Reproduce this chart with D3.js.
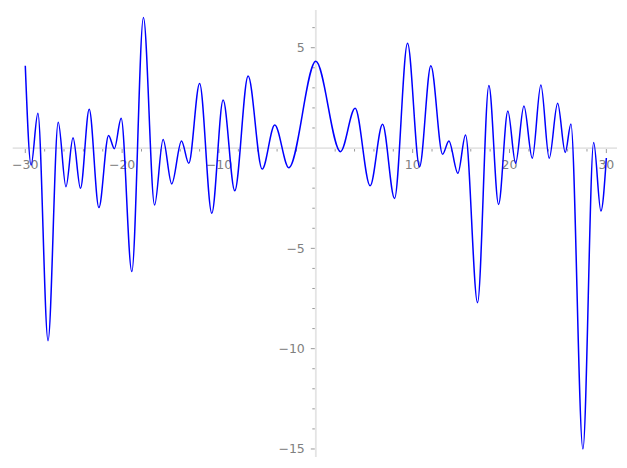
<!DOCTYPE html>
<html>
<head>
<meta charset="utf-8">
<script src="https://cdn.jsdelivr.net/npm/d3@7"></script>
<style>
  body { margin: 0; background: #fff; }
  text { font-family: "DejaVu Sans", sans-serif; font-size: 12.5px; fill: #808080; }
</style>
</head>
<body>
<div id="chart"></div>
<script>
// Curve samples (mostly local extrema)
const xValues = [-30, -29.4, -28.7, -27.65, -26.6, -25.8, -25.07, -24.3, -23.4, -22.4, -21.4, -20.8, -20.1,
  -19.0, -17.8, -16.65, -15.77, -14.88, -13.87, -13.12, -12.0, -10.74, -9.57, -8.37, -6.99, -5.54, -4.24,
  -2.79, 0, 2.55, 4.06, 5.61, 6.89, 8.13, 9.47, 10.71, 11.88, 13.09, 13.74, 14.67, 15.46, 16.7, 17.87,
  18.87, 19.83, 20.63, 21.49, 22.35, 23.24, 24.1, 24.97, 25.76, 26.34, 27.58, 28.69, 29.44, 30];
const yValues = [4.1, -0.85, 1.73, -9.6, 1.28, -1.93, 0.51, -2.01, 1.93, -2.97, 0.63, -0.03, 1.48,
  -6.16, 6.51, -2.84, 0.43, -1.79, 0.35, -0.76, 3.22, -3.25, 2.39, -2.13, 3.59, -1.05, 1.15,
  -0.98, 4.32, -0.18, 1.98, -1.88, 1.18, -2.51, 5.22, -0.93, 4.10, -0.31, 0.35, -1.26, 0.65, -7.71, 3.12,
  -2.81, 1.84, -0.76, 2.09, -0.51, 3.14, -0.51, 2.23, -0.22, 1.2, -15.0, 0.27, -3.14, -0.5];

const xLabels = [-30, -20, -10, 10, 20, 30];
const yLabels = [5, -5, -10, -15];

const width = 627, height = 468;
const points = xValues.map((x, i) => ({ x, y: yValues[i] }));

const x = d3.scaleLinear().domain([-31.3, 31.1]).range([12.7, 617]);
const y = d3.scaleLinear().domain([-15.4, 6.88]).range([457, 10]);

const svg = d3.select("#chart").append("svg")
  .attr("width", width)
  .attr("height", height);

// Axis spines through the origin
svg.append("line")
  .attr("x1", x.range()[0]).attr("x2", x.range()[1])
  .attr("y1", y(0)).attr("y2", y(0))
  .attr("stroke", "#e4e4e4").attr("stroke-width", 1.8);
svg.append("line")
  .attr("x1", x(0)).attr("x2", x(0))
  .attr("y1", y.range()[0]).attr("y2", y.range()[1])
  .attr("stroke", "#e4e4e4").attr("stroke-width", 1.8);

// x ticks: minor every 2, major every 10
const xMinor = d3.range(-30, 31, 2).filter(d => d !== 0);
svg.append("g").selectAll("line")
  .data(xMinor)
  .join("line")
  .attr("x1", d => x(d)).attr("x2", d => x(d))
  .attr("y1", y(0) + 1).attr("y2", d => y(0) + (d % 10 === 0 ? 5 : 3.5))
  .attr("stroke", "#9a9a9a").attr("stroke-width", 1);

svg.append("g").selectAll("text")
  .data(xLabels)
  .join("text")
  .attr("x", d => x(d))
  .attr("y", y(0) + 21)
  .attr("text-anchor", "middle")
  .text(d => d3.format("")(d).replace("-", "\u2212"));

// y ticks: minor every 1, major every 5
const yMinor = d3.range(-15, 7, 1).filter(d => d !== 0);
svg.append("g").selectAll("line")
  .data(yMinor)
  .join("line")
  .attr("y1", d => y(d)).attr("y2", d => y(d))
  .attr("x1", x(0) - 1).attr("x2", d => x(0) - (d % 5 === 0 ? 5 : 3.5))
  .attr("stroke", "#9a9a9a").attr("stroke-width", 1);

svg.append("g").selectAll("text")
  .data(yLabels)
  .join("text")
  .attr("x", x(0) - 11)
  .attr("y", d => y(d))
  .attr("dy", "0.36em")
  .attr("text-anchor", "end")
  .text(d => String(d).replace("-", "\u2212"));

// The curve
const line = d3.line()
  .x(d => x(d.x))
  .y(d => y(d.y))
  .curve(d3.curveMonotoneX);

svg.append("path")
  .datum(points)
  .attr("fill", "none")
  .attr("stroke", "#0000ff")
  .attr("stroke-width", 1.5)
  .attr("d", line);
</script>
</body>
</html>
